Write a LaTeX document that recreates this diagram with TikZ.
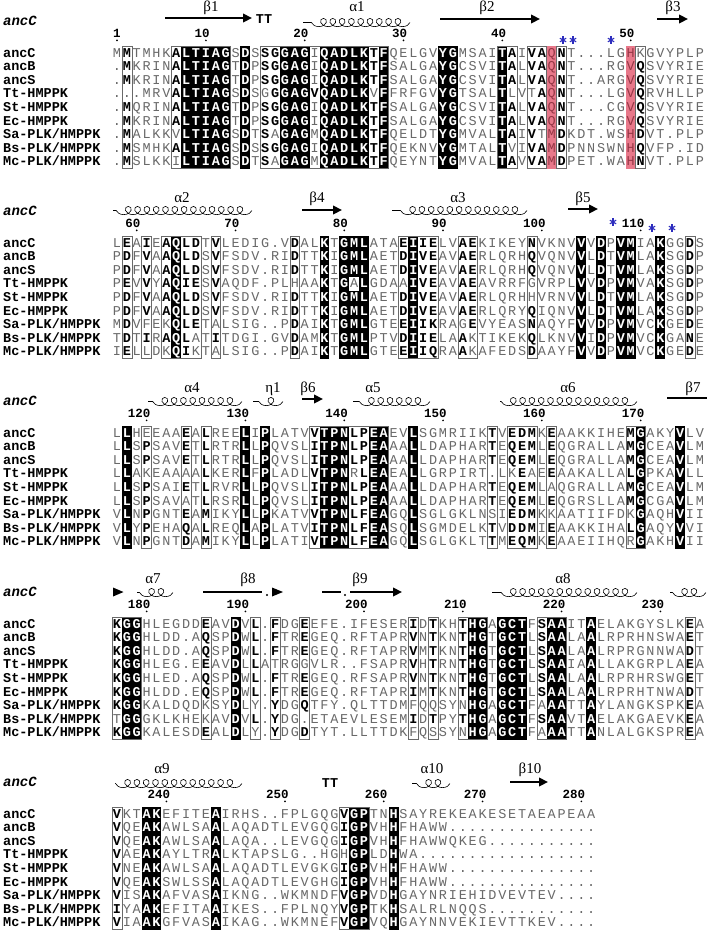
\documentclass[tikz,border=0pt]{standalone}
\usepackage{fontspec}
\usetikzlibrary{arrows.meta,decorations.pathmorphing}
\newfontfamily\seqfont{Liberation Mono}
\newfontfamily\grkfont{Liberation Serif}
\definecolor{plaingray}{RGB}{105,105,105}
\definecolor{framegray}{RGB}{105,105,105}
\definecolor{redfill}{RGB}{232,120,138}
\definecolor{redtext}{RGB}{150,55,70}
\definecolor{starblue}{RGB}{45,45,190}
\newcount\cellcol
\def\parsecols#1{\cellcol=0 \parsecolsA#1\relax}
\def\parsecolsA#1{\ifx#1\relax\else\advance\cellcol by 1 \expandafter\xdef\csname ct\the\cellcol\endcsname{#1}\expandafter\parsecolsA\fi}
\newcommand\setov[2]{\foreach \ocol/\ocode in {#2}{\expandafter\xdef\csname ov\blkid-#1-\ocol\endcsname{\ocode}}}
\def\seqrow#1#2#3{\def\currow{#1}\def\cury{#2}\cellcol=0 \seqrowA#3\relax}
\def\seqrowA#1{\ifx#1\relax\let\seqnext\relax\else\def\curchar{#1}\let\seqnext\seqrowB\fi\seqnext}
\def\seqrowB{\advance\cellcol by 1 \drawcell\seqrowA}
\def\drawcell{%
 \pgfmathsetmacro\cx{117+(\the\cellcol-1)*9.88}%
 \edef\cellcode{\csname ct\the\cellcol\endcsname}%
 \ifcsname ov\blkid-\currow-\the\cellcol\endcsname
   \edef\cellcode{\csname ov\blkid-\currow-\the\cellcol\endcsname}\fi
 \if.\curchar\def\cellcode{n}\fi
 \csname cell\cellcode\endcsname}
\def\celln{\node[pl,name=s\blkid-\currow-\the\cellcol] at (\cx,\cury+4) {\curchar};}
\def\cellb{\node[bd,name=s\blkid-\currow-\the\cellcol] at (\cx,\cury+4) {\curchar};}
\def\cellk{\fill[black] (\cx-4.97,\cury-6.85) rectangle (\cx+4.97,\cury+6.85);\node[wt,name=s\blkid-\currow-\the\cellcol] at (\cx,\cury+4) {\curchar};}
\def\cellr{\fill[redfill] (\cx-4.97,\cury-6.85) rectangle (\cx+4.97,\cury+6.85);\node[rd,name=s\blkid-\currow-\the\cellcol] at (\cx,\cury+4) {\curchar};}
\newcommand\ninerows[9]{\seqrow{1}{\base}{#1}\seqrow{2}{\base+13.6}{#2}\seqrow{3}{\base+27.2}{#3}\seqrow{4}{\base+40.8}{#4}\seqrow{5}{\base+54.4}{#5}\seqrow{6}{\base+68}{#6}\seqrow{7}{\base+81.6}{#7}\seqrow{8}{\base+95.2}{#8}\seqrow{9}{\base+108.8}{#9}}
\newcommand\namerow[2]{\node[nm] (nm\blkid-#1) at (3,{\base+(#1-1)*13.6+4}) {#2};}
\newcommand\allnames{\node[hdr] (hd\blkid) at (3,\base-27.5) {ancC};
 \namerow{1}{ancC}\namerow{2}{ancB}\namerow{3}{ancS}\namerow{4}{Tt-HMPPK}\namerow{5}{St-HMPPK}\namerow{6}{Ec-HMPPK}\namerow{7}{Sa-PLK/HMPPK}\namerow{8}{Bs-PLK/HMPPK}\namerow{9}{Mc-PLK/HMPPK}}
\newcommand\frames[1]{\foreach \fa/\fb in {#1}{\draw[fr] ({117+(\fa-1)*9.88-4.94},{\base-6.85}) rectangle ({117+(\fb-1)*9.88+4.94},{\base+108.8+6.85});}}
\newcommand\numlab[2]{\pgfmathsetmacro\nx{117+(#1-1)*9.88}\node[numf] (num\blkid-#2) at (\nx+3.9,\base-15.5) {#2};\fill (\nx,\base-12.6) circle (0.95);}
\newcommand\aster[2]{\foreach \ang in {90,30,150}{\draw[stl] (#1,#2) ++(\ang:3.6) -- ++(\ang+180:7.2);}}
\newcommand\sslabel[3]{\node[sslab] (lab#3) at (#1,#2) {#3};}
% helix drawn right to left so that its loops stand above the line
\newcommand\helixat[3]{\draw[helix] (#2,#3+1.5) -- (#1,#3+1.5);}
\begin{document}
\begin{tikzpicture}[x=1pt,y=-1pt,
 pl/.style={font=\seqfont\fontsize{13.5}{13.5}\selectfont,text=plaingray,inner sep=0pt,anchor=base},
 bd/.style={font=\seqfont\bfseries\fontsize{13.5}{13.5}\selectfont,text=black,inner sep=0pt,anchor=base},
 wt/.style={font=\seqfont\bfseries\fontsize{13.5}{13.5}\selectfont,text=white,inner sep=0pt,anchor=base},
 rd/.style={font=\seqfont\fontsize{13.5}{13.5}\selectfont,text=redtext,inner sep=0pt,anchor=base},
 nm/.style={font=\seqfont\bfseries\fontsize{13.5}{13.5}\selectfont,inner sep=0pt,anchor=base west},
 hdr/.style={font=\seqfont\bfseries\itshape\fontsize{14}{14}\selectfont,inner sep=0pt,anchor=base west},
 numf/.style={font=\seqfont\bfseries\fontsize{12.5}{12.5}\selectfont,inner sep=0pt,anchor=base east},
 sslab/.style={font=\grkfont\fontsize{15}{15}\selectfont,inner sep=0pt,anchor=base},
 ttl/.style={font=\seqfont\bfseries\fontsize{13.5}{13.5}\selectfont,inner sep=0pt},
 fr/.style={draw=framegray,line width=0.6pt},
 sheet/.style={line width=2.8pt,-{Triangle[length=9pt,width=8.5pt]}},
 bar/.style={line width=2.8pt},
 helix/.style={decorate,decoration={coil,aspect=1.25,segment length=9.3pt,amplitude=4.1pt},line width=0.6pt},
 stl/.style={draw=starblue,line width=1.1pt}]
\useasboundingbox (0,0) rectangle (709,932);
\fill[white] (0,0) rectangle (709,932);
% ---------------- block 1
\def\blkid{1}\def\base{53}
\parsecols{nbnnnnbkkkkknknbbkkknkkkkkbknnnnnkknnnnkbnbbrbnnnnnnrbnnnnnn}
\setov{1}{54/n}
\setov{4}{16/n,21/b,27/n,41/n,43/n}
\setov{7}{7/n,17/n,44/n}
\setov{8}{41/n}
\setov{9}{7/n,17/n}
\ninerows{MMTMHKALTIAGSDSSGGAGIQADLKTFQELGVYGMSAITAIVAQNT...LGHKGVYPLP}
{.MKRINALTIAGTDPSGGAGIQADLKTFSALGAYGCSVITALVAQNT...RGVQSVYRIE}
{.MKRINALTIAGTDPSGGAGIQADLKTFSALGAYGCSVITALVAQNT..ARGVQSVYRIE}
{...MRVALTIAGSDSGGGAGVQADLKVFFRFGVYGTSALTLVTAQNT...LGVQRVHLLP}
{.MQRINALTIAGTDPSGGAGIQADLKTFSALGAYGCSVITALVAQNT...CGVQSVYRIE}
{.MKRINALTIAGTDPSGGAGIQADLKTFSALGAYGCSVITALVAQNT...RGVQSVYRIE}
{.MALKKVLTIAGSDTSAGAGMQADLKTFQELDTYGMVALTAIVTMDKDT.WSHDVT.PLP}
{.MSMHKALTIAGSDSSGGAGIQADLKTFQEKNVYGMTALTVIVAMDPNNSWNHQVFP.ID}
{.MSLKKILTIAGSDTSAGAGMQADLKTFQEYNTYGMVALTAVVAMDPET.WAHNVT.PLP}
\frames{2/2,7/12,16/28,40/41,43/44,46/46,54/54}
\allnames
\numlab{1}{1}\numlab{10}{10}\numlab{20}{20}\numlab{30}{30}\numlab{40}{40}\numlab{53}{50}
\draw[sheet] (165,18) -- (252,18);
\node[ttl] (tt1) at (264,19) {TT};
\helixat{303}{410}{21}
\draw[sheet] (440,19) -- (540,19);
\draw[sheet] (657,19) -- (688,19);
\sslabel{211}{11}{β1}\sslabel{357}{11}{α1}\sslabel{487}{11}{β2}\sslabel{673}{11}{β3}
\aster{563}{40}\aster{573}{40}\aster{611}{40}
% ---------------- block 2
\def\blkid{2}\def\base{243}
\parsecols{nbnbnbkbbnbnnnnnnnbnnknkkknnnbkbbnnbbnnnnnbnnnnknknkknnknnbn}
\setov{4}{19/n,25/n,30/n,43/n}
\setov{5}{43/n}
\setov{7}{4/n,6/n,11/n,36/n}
\setov{8}{9/n,37/n}
\setov{9}{4/n,6/n,9/n,11/n,37/n}
\ninerows{LEAIEAQLDTVLEDIG.VDALKTGMLATAEIIELVAEKIKEYNVKNVVVDPVMIAKGGDS}
{PDFVAAQLDSVFSDV.RIDTTKIGMLAETDIVEAVAERLQRHQVQNVVLDTVMLAKSGDP}
{PDFVAAQLDSVFSDV.RIDTTKIGMLAETDIVEAVAERLQRHQVQNVVLDTVMLAKSGDP}
{PEVVYAQIESVAQDF.PLHAAKTGALGDAAIVEAVAEAVRRFGVRPLVVDPVMVAKSGDP}
{PDFVAAQLDSVFSDV.RIDTTKIGMLAETDIVEAVAERLQRHHVRNVVLDTVMLAKSGDP}
{PDFVAAQLDSVFSDV.RIDTTKIGMLAETDIVEAVAERLQRYQIQNVVLDTVMLAKSGDP}
{MDVFEKQLETALSIG..PDAIKTGMLGTEEIIKRAGEVYEASNAQYFVVDPVMVCKGEDE}
{TDTIRAQLATITDGI.GVDAMKTGMLPTVDIIELAAKTIKEKQLKNVVIDPVMVCKGANE}
{IELLDKQIKTALSIG..PDAIKTGMLGTEEIIQRAAKAFEDSDAAYFVVDPVMVCKGEDE}
\frames{2/2,4/4,6/9,11/11,19/19,30/33,36/37,43/43,59/59}
\allnames
\numlab{3}{60}\numlab{13}{70}\numlab{24}{80}\numlab{34}{90}\numlab{44}{100}\numlab{54}{110}
\helixat{113}{252}{209}
\draw[sheet] (302,210) -- (342,210);
\helixat{392}{527}{209}
\draw[sheet] (568,209) -- (598,209);
\sslabel{182}{202}{α2}\sslabel{317}{202}{β4}\sslabel{458}{202}{α3}\sslabel{583}{202}{β5}
\aster{613}{222}\aster{652}{228}\aster{672}{228}
% ---------------- block 3
\def\blkid{3}\def\base{433}
\parsecols{nknbnnnbnbnnnknknnnnbkkkbbkknnknnnnnnnbnbbbnbnnnnnnnbknnnknn}
\setov{1}{4/n}
\setov{4}{4/n,8/n,25/n,41/n,43/n}
\setov{5}{45/n}
\setov{6}{8/n}
\setov{7}{39/n,45/n,53/n}
\setov{9}{53/n}
\ninerows{LLHEEAAEALREELIPLATVVTPNLPEAEVLSGMRIIKTVEDMKEAAKKIHEMGAKYVLV}
{LLSPSAVETLRTRLLPQVSLITPNLPEAAALLDAPHARTEQEMLEQGRALLAMGCEAVLM}
{LLSPSAVETLRTRLLPQVSLITPNLPEAAALLDAPHARTEQEMLEQGRALLAMGCEAVLM}
{LLAKEAAAALKERLFPLADLVTPNRLEAEALLGRPIRT.LKEAEEAAKALLALGPKAVLL}
{LLSPSAIETLRVRLLPQVSLITPNLPEAAALLDAPHARTEQEMLAQGRALLAMGCEAVLM}
{LLSPSAVATLRSRLLPQVSLITPNLPEAAALLDAPHARTEQEMLEQGRSLLAMGCGAVLM}
{VLNPGNTEAMIKYLLPKATVVTPNLFEAGQLSGLGKLNSIEDMKKAATIIFDKGAQHVII}
{VLYPEHAQALREQLAPLATVITPNLFEASQLSGMDELKTVDDMIEAAKKIHALGAQYVVI}
{VLNPGNTDAMIKYLLPLATIVTPNLFEAGQLSGLGKLTTMEQMKEAAEIIHQRGAKHVII}
\frames{4/4,8/8,10/10,21/28,39/39,41/43,45/45,53/54}
\allnames
\numlab{4}{120}\numlab{14}{130}\numlab{24}{140}\numlab{34}{150}\numlab{44}{160}\numlab{54}{170}
\helixat{148}{242}{400}
\helixat{253}{283}{400}
\draw[sheet] (302,399) -- (323,399);
\helixat{353}{430}{400}
\helixat{500}{637}{400}
\draw[bar] (667,398) -- (707,398);
\sslabel{192}{392}{α4}\sslabel{273}{392}{η1}\sslabel{308}{392}{β6}\sslabel{373}{392}{α5}\sslabel{568}{392}{α6}\sslabel{693}{392}{β7}
% ---------------- block 4
\def\blkid{4}\def\base{624}
\parsecols{bkknnnnnnbnnknbnbnnbnnnnnnnnnnbnbnnbkknkkknbkknnknnnnnnnnnbn}
\setov{4}{17/n,20/n}
\setov{7}{10/n,15/n,31/n,33/n,36/n,44/n}
\setov{8}{1/n,10/n}
\setov{9}{15/n,31/n,33/n,36/n,44/n}
\ninerows{KGGHLEGDDEAVDVL.FDGEEFE.IFESERIDTKHTHGAGCTFSAAITAELAKGYSLKEA}
{KGGHLDD.AQSPDWL.FTREGEQ.RFTAPRVNTKNTHGTGCTLSAALAALRPRHNSWAET}
{KGGHLDD.AQSPDWL.FTREGEQ.RFTAPRVMTKNTHGTGCTLSAALAALRPRGNNWADT}
{KGGHLEG.EEAVDLLATRGGVLR..FSAPRVHTRNTHGTGCTLSAAIAALLAKGRPLAEA}
{KGGHLED.AQSPDWL.FTREGEQ.RFSAPRVNTKNTHGTGCTLSAALAALRPRHRSWGET}
{KGGHLDD.EQSPDWL.FTREGEQ.RFTAPRIMTKNTHGTGCTLSAALAALRPRHTNWADT}
{KGGKALDQDKSYDLY.YDGQTFY.QLTTDMFQQSYNHGAGCTFAAATTAYLANGKSPKEA}
{TGGGKLKHEKAVDVL.YDG.ETAEVLESEMIDTPYTHGAGCTFSAAVTAELAKGAEVKEA}
{KGGKALESDEALDLY.YDGDTYT.LLTTDKFQSSYNHGAGCTFAAATTANLALGKSPREA}
\frames{1/3,10/10,15/15,17/17,20/20,31/31,33/33,36/38,44/46,59/59}
\allnames
\numlab{4}{180}\numlab{14}{190}\numlab{26}{200}\numlab{36}{210}\numlab{46}{220}\numlab{56}{230}
\fill (113,587.5) -- (123.5,592) -- (113,596.5) -- cycle;
\helixat{137}{173}{591}
\draw[bar] (203,592) -- (262,592);
\fill (267,595) circle (1.1);
\fill (272,587.5) -- (283,592) -- (272,596.5) -- cycle;
\draw[bar] (322,592) -- (341,592);
\fill (345,595) circle (1.1);
\draw[sheet] (350,592) -- (402,592);
\helixat{492}{637}{591}
\helixat{670}{706}{591}
\sslabel{153}{583}{α7}\sslabel{248}{583}{β8}\sslabel{360}{583}{β9}\sslabel{563}{583}{α8}
% ---------------- block 5
\def\blkid{5}\def\base{814}
\parsecols{bnnkknnnnnknnnnnnnnnnnnbkknnknnnnnnnnnnnnnnnnnnnnnnnnnnnnnnn}
\setov{4}{24/n}
\ninerows{VKTAKEFITEAIRHS..FPLGQGVGPTNHSAYREKEAKESETAEAPEAA}
{VQEAKAWLSAALAQADTLEVGQGIGPVHHFHAWW...............}
{VQEAKAWLSAALAQA..LEVGQGIGPVHHFHAWWQKEG...........}
{VAEAKAYLTRALKTAPSLG..HGHGPLDHWA..................}
{VNEAKAWLSAALAQADTLEVGKGIGPVHHFHAWW...............}
{VQEAKSWLSSALAQADTLEVGHGIGPVHHFHAWW...............}
{VISAKAFVASAIKNG..WKMNDFVGPVDHGAYNRIEHIDVEVTEV....}
{IYAAKEFITAAIKES..FPLNQYVGPTKHSALRLNQQS...........}
{VIAAKGFVASAIKAG..WKMNEFVGPVQHGAYNNVEKIEVTTKEV....}
\frames{1/1,24/26}
\allnames
\numlab{6}{240}\numlab{18}{250}\numlab{28}{260}\numlab{38}{270}\numlab{48}{280}
\helixat{115}{242}{782}
\node[ttl] (tt5) at (330,783) {TT};
\helixat{412}{450}{782}
\draw[sheet] (510,782) -- (548,782);
\sslabel{162}{773}{α9}\sslabel{432}{773}{α10}\sslabel{530}{773}{β10}
\end{tikzpicture}
\end{document}
